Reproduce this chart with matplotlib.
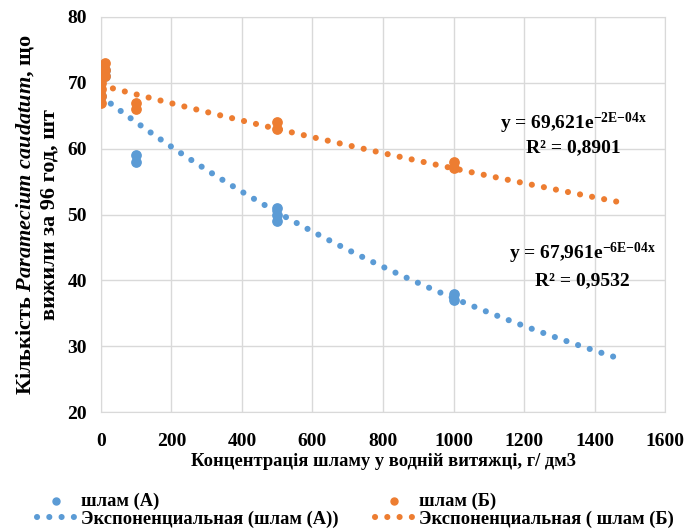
import matplotlib.pyplot as plt
import numpy as np

plt.rcParams['font.family'] = ['Liberation Serif', 'DejaVu Serif']
plt.rcParams['font.weight'] = 'bold'
plt.rcParams['mathtext.fontset'] = 'custom'
plt.rcParams['mathtext.rm'] = 'Liberation Serif:bold'
plt.rcParams['mathtext.bf'] = 'Liberation Serif:bold'
plt.rcParams['mathtext.it'] = 'Liberation Serif:italic:bold'

# дані
x_a = [0, 0, 0, 10, 10, 100, 100, 500, 500, 500, 1000, 1000]
y_a = [72, 71, 68, 71, 72, 58, 59, 49, 50, 51, 37, 38]
x_b = [0, 0, 0, 0, 10, 10, 10, 100, 100, 500, 500, 1000, 1000]
y_b = [67, 68, 69, 70, 71, 72, 73, 66, 67, 63, 64, 57, 58]

# коефіцієнти тренду (з рівнянь на графіку)
a_coef, a_rate = 67.961, -6e-4
b_coef, b_rate = 69.621, -2e-4
trend_x = np.linspace(0, 1480, 200)

blue = '#5B9BD5'
orange = '#ED7D31'

fig = plt.figure(figsize=(6.87, 5.31), dpi=100)
ax = fig.add_axes([0.147, 0.224, 0.821, 0.744])

dot = (0, (0.01, 2.0))
ax.plot(trend_x, a_coef * np.exp(a_rate * trend_x), color=blue, lw=4.4,
        linestyle=dot, dash_capstyle='round', zorder=2,
        label='Экспоненциальная (шлам (А))')
ax.plot(trend_x, b_coef * np.exp(b_rate * trend_x), color=orange, lw=4.4,
        linestyle=dot, dash_capstyle='round', zorder=2,
        label='Экспоненциальная ( шлам (Б)')
ax.scatter(x_a, y_a, s=45, color=blue, zorder=3, label='шлам (А)')
ax.scatter(x_b, y_b, s=45, color=orange, zorder=3, label='шлам (Б)')

ax.set_xlim(0, 1600)
ax.set_ylim(20, 80)
ax.set_xticks(np.arange(0, 1601, 200))
ax.set_yticks(np.arange(20, 81, 10))
ax.grid(True, color='#d9d9d9', lw=1)
ax.set_axisbelow(True)
for s in ax.spines.values():
    s.set_color('#d9d9d9')
ax.tick_params(length=0, labelsize=14)
ax.tick_params(axis='x', pad=15)
ax.tick_params(axis='y', pad=10)
for lbl in ax.get_xticklabels() + ax.get_yticklabels():
    lbl.set_fontweight('bold')

ax.set_xlabel('Концентрація шламу у водній витяжці, г/ дм3', fontsize=13.3,
              fontweight='bold', labelpad=2)
ax.set_ylabel('Кількість $\\mathit{Paramecium\\ caudatum}$, що\nвижили за 96 год, шт',
              fontsize=16, fontweight='bold', labelpad=6, linespacing=1.2)

ax.text(1340, 63.9, 'y = 69,621e$^{-2\\mathrm{E}{-}04\\mathrm{x}}$', fontsize=14,
        ha='center', va='center')
ax.text(1340, 60.2, 'R² = 0,8901', fontsize=14, ha='center', va='center')
ax.text(1365, 44.1, 'y = 67,961e$^{-6\\mathrm{E}{-}04\\mathrm{x}}$', fontsize=14,
        ha='center', va='center')
ax.text(1365, 40.0, 'R² = 0,9532', fontsize=14, ha='center', va='center')

handles, labels = ax.get_legend_handles_labels()
order = [2, 0, 3, 1]
fig.legend([handles[i] for i in order], [labels[i] for i in order],
           loc='lower left', bbox_to_anchor=(0.054, 0.006), ncol=2, frameon=False,
           prop={'size': 13.3, 'weight': 'bold'}, handlelength=2.0,
           handletextpad=0.4, columnspacing=1.95, labelspacing=0.03,
           borderpad=0, borderaxespad=0, markerscale=0.75)

fig.savefig('out.png', dpi=100)
